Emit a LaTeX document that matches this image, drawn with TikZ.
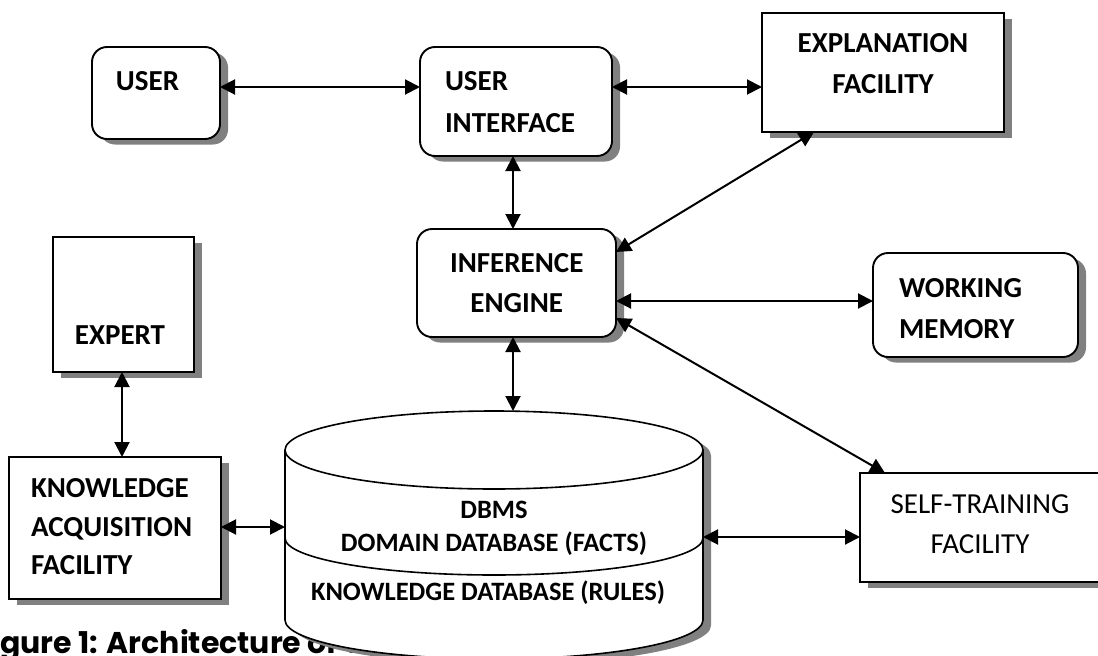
\documentclass[tikz,border=0pt]{standalone}
\usepackage{fontspec}
\setmainfont{Carlito}
\newfontfamily\capfont{Poppins}
\usetikzlibrary{arrows.meta,shadows}

\tikzset{
  >={Triangle[length=15pt,width=15pt]},
  shade box/.style={draw, line width=1.9pt, fill=white, inner sep=0pt, outer sep=0pt,
    drop shadow={shadow xshift=8pt, shadow yshift=-5.5pt, fill=black!50, opacity=1}},
  sqbox/.style={shade box},
  rbox/.style={shade box, rounded corners=15pt},
  link/.style={<->, line width=2pt},
  lbl/.style={font=\fontsize{29}{35}\selectfont\bfseries, inner sep=0pt, outer sep=0pt},
  lblr/.style={font=\fontsize{29}{35}\selectfont, inner sep=0pt, outer sep=0pt},
  dblbl/.style={font=\fontsize{26.5}{32}\selectfont\bfseries, inner sep=0pt, outer sep=0pt},
}

\begin{document}
\begin{tikzpicture}[x=1pt,y=-1pt]
\useasboundingbox (0,0) rectangle (1098,656);
\clip (0,0) rectangle (1098,656);

% caption, partly hidden by the database drum
\node[anchor=base west, inner sep=0pt] (caption) at (0,653)
  {\capfont\bfseries\fontsize{30}{36}\selectfont\llap{Fi}gure 1: Architecture of the};

% boxes
\node[rbox, minimum width=128pt, minimum height=92pt]  (user)   at (156,93) {};
\node[rbox, minimum width=192pt, minimum height=109pt] (ui)     at (516,101.5) {};
\node[sqbox, minimum width=242pt, minimum height=119pt] (expl)  at (883,72.5) {};
\node[rbox, minimum width=199pt, minimum height=108pt] (ie)     at (516.5,283) {};
\node[rbox, minimum width=205pt, minimum height=104pt] (wm)     at (975.5,305) {};
\node[sqbox, minimum width=141pt, minimum height=135pt] (expert) at (123.5,304.5) {};
\node[sqbox, minimum width=212pt, minimum height=142pt] (kaf)   at (115,528) {};
\node[sqbox, minimum width=240pt, minimum height=109pt] (self)  at (980,527.5) {};

% database drum
\fill[black!50, shift={(8,5.5)}] (285,450) arc[start angle=180, end angle=360, x radius=209, y radius=39]
  -- (703,620) arc[start angle=0, end angle=180, x radius=209, y radius=39] -- cycle;
\filldraw[fill=white, line width=1.6pt] (285,450) arc[start angle=180, end angle=360, x radius=209, y radius=39]
  -- (703,620) arc[start angle=0, end angle=180, x radius=209, y radius=39] -- cycle;
\draw[line width=1.6pt] (285,450) arc[start angle=180, end angle=0, x radius=209, y radius=39];
\draw[line width=1.6pt] (285,538) arc[start angle=180, end angle=0, x radius=209, y radius=37];
\node[inner sep=0pt, outer sep=0pt, minimum width=418pt, minimum height=248pt] (db) at (494,535) {};

% labels
\node[lbl, anchor=base] (user-t) at (147.5,90) {USER};
\node[lbl, anchor=base west] (ui-t1) at (445,90) {USER};
\node[lbl, anchor=base west] (ui-t2) at (445,132) {INTERFACE};
\node[lbl, anchor=base] (expl-t1) at (883,52) {EXPLANATION};
\node[lbl, anchor=base] (expl-t2) at (883,93) {FACILITY};
\node[lbl, anchor=base] (ie-t1) at (516.7,272.5) {INFERENCE};
\node[lbl, anchor=base] (ie-t2) at (516.7,312.5) {ENGINE};
\node[lbl, anchor=base west] (wm-t1) at (899,297) {WORKING};
\node[lbl, anchor=base west] (wm-t2) at (899,338) {MEMORY};
\node[lbl, anchor=base] (expert-t) at (120,344) {EXPERT};
\node[lbl, anchor=base west] (kaf-t1) at (31,497) {KNOWLEDGE};
\node[lbl, anchor=base west] (kaf-t2) at (31,536) {ACQUISITION};
\node[lbl, anchor=base west] (kaf-t3) at (31,574) {FACILITY};
\node[lblr, anchor=base] (self-t1) at (980,513) {SELF-TRAINING};
\node[lblr, anchor=base] (self-t2) at (980,553) {FACILITY};
\node[dblbl, anchor=base] (db-t1) at (494,518) {DBMS};
\node[dblbl, anchor=base] (db-t2) at (494,551) {DOMAIN DATABASE (FACTS)};
\node[dblbl, anchor=base] (db-t3) at (488,600) {KNOWLEDGE DATABASE (RULES)};

% connector rows and columns
\coordinate (row1)  at (0,87);
\coordinate (colIE) at (513,0);
\coordinate (colXK) at (122,0);
\coordinate (rowWM) at (0,301);
\coordinate (rowKA) at (0,527);
\coordinate (rowST) at (0,537);
\coordinate (rowEX) at (0,252);
\coordinate (colEX) at (814,0);
\coordinate (rowSF) at (0,318);
\coordinate (colSF) at (885,0);

% connectors
\draw[link] (user.east |- row1) -- (ui.west |- row1);
\draw[link] (ui.east |- row1) -- (expl.west |- row1);
\draw[link] (ui.south -| colIE) -- (ie.north -| colIE);
\draw[link] (ie.east |- rowEX) -- (expl.south -| colEX);
\draw[link] (ie.east |- rowWM) -- (wm.west |- rowWM);
\draw[link] (ie.east |- rowSF) -- (self.north -| colSF);
\draw[link] (ie.south -| colIE) -- (db.north -| colIE);
\draw[link] (expert.south -| colXK) -- (kaf.north -| colXK);
\draw[link] (kaf.east |- rowKA) -- (db.west |- rowKA);
\draw[link] (db.east |- rowST) -- (self.west |- rowST);
\end{tikzpicture}
\end{document}
